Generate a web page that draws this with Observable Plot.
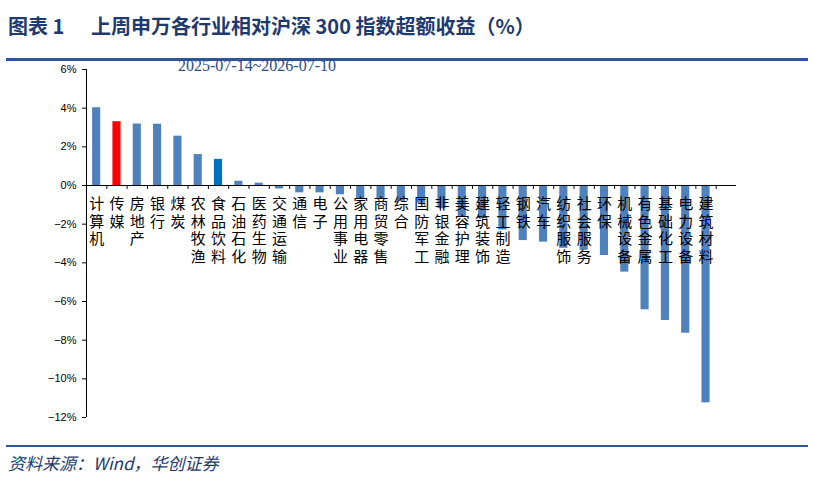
<!DOCTYPE html>
<html>
<head>
<meta charset="utf-8">
<script src="https://cdn.jsdelivr.net/npm/d3@7"></script>
<script src="https://cdn.jsdelivr.net/npm/@observablehq/plot@0.6"></script>
<style>
  html, body { margin: 0; padding: 0; background: #fff; }
  #wrap { position: relative; width: 814px; height: 477px; overflow: hidden; }
  #chart, #axes { position: absolute; left: 0; top: 0; }
  #axes { z-index: 5; pointer-events: none; }
  .title { position: absolute; top: 13px; font-family: "Noto Sans CJK SC", sans-serif; font-weight: 700; font-size: 20px; line-height: 26px; color: #1F3A6E; white-space: pre; }
  .hline { position: absolute; left: 6px; width: 802px; background: #2E5597; }
  .date { position: absolute; left: 178px; top: 57px; font-family: "Liberation Serif", serif; font-size: 16px; color: #2B4D8C; }
  .source { position: absolute; left: 8px; top: 451px; font-family: "Noto Sans CJK SC", sans-serif; font-style: italic; font-size: 17px; line-height: 24px; color: #1F3A6E; }
</style>
</head>
<body>
<div id="wrap">
  <div id="chart"></div>
  <div class="title" style="left:8px;">图表 1</div>
  <div class="title" style="left:91px;">上周申万各行业相对沪深 300 指数超额收益（%）</div>
  <div class="hline" style="top:58px;height:3px;"></div>
  <div class="hline" style="top:445px;height:2px;"></div>
  <div class="source">资料来源：Wind，华创证券</div>
  <div class="date">2025-07-14~2026-07-10</div>
  <div id="axes"></div>
</div>
<script>
const categories = ["计算机","传媒","房地产","银行","煤炭","农林牧渔","食品饮料","石油石化","医药生物","交通运输","通信","电子","公用事业","家用电器","商贸零售","综合","国防军工","非银金融","美容护理","建筑装饰","轻工制造","钢铁","汽车","纺织服饰","社会服务","环保","机械设备","有色金属","基础化工","电力设备","建筑材料"];
const values = [4.02,3.3,3.18,3.17,2.55,1.6,1.35,0.22,0.12,-0.18,-0.38,-0.38,-0.48,-0.7,-0.72,-0.82,-0.92,-1.2,-1.6,-1.72,-2.3,-2.85,-2.93,-3.25,-3.35,-3.62,-4.48,-6.43,-6.98,-7.64,-11.24];
const yTicks = [-12,-10,-8,-6,-4,-2,0,2,4,6];
const redCategory = "传媒";
const darkCategory = "食品饮料";

const data = categories.map((name, i) => ({name, value: values[i]}));

const W = 814, H = 477, mL = 86, mR = 78, mT = 69, mB = 60;
const slots = [...categories, "　"];
const step = (W - mL - mR) / slots.length;
const frameOpts = {
  width: W, height: H,
  marginTop: mT, marginBottom: mB, marginLeft: mL, marginRight: mR,
  style: {background: "transparent", fontFamily: "Liberation Sans, Arial, sans-serif"},
  x: {domain: slots, paddingInner: 0.6, paddingOuter: 0.3, round: false, axis: null},
  y: {domain: [-12, 6], axis: null}
};

const chart = Plot.plot({
  ...frameOpts,
  marks: [
    Plot.barY(data, {filter: d => d.name !== redCategory && d.name !== darkCategory, x: "name", y: "value", fill: "#4F81BD"}),
    Plot.barY(data, {filter: d => d.name === redCategory, x: "name", y: "value", fill: "#FF0000"}),
    Plot.barY(data, {filter: d => d.name === darkCategory, x: "name", y: "value", fill: "#0070C0"}),
    Plot.text(data, {
      x: "name", y: 0,
      text: d => d.name.split("").join("\n"),
      lineAnchor: "top", dy: 11, fontSize: 15, lineHeight: 1.17,
      fill: "#000", fontFamily: "Noto Sans CJK SC, sans-serif"
    }),
    Plot.axisY({
      ticks: yTicks,
      tickFormat: d => (d < 0 ? "\u2212" + Math.abs(d) : d) + "%",
      tickSize: 4, tickPadding: 6, fontSize: 11, label: null
    }),
    Plot.ruleY([0], {stroke: "#000"})
  ]
});
document.getElementById("chart").appendChild(chart);

// Axis lines and category ticks in a second, identical-scale plot layered on top.
const axes = Plot.plot({
  ...frameOpts,
  marks: [
    Plot.ruleY([0], {stroke: "#000"}),
    Plot.ruleX(slots, {x: d => d, y1: 0, y2: -0.2, dx: -step / 2, stroke: "#000"}),
    Plot.ruleX([categories[0]], {x: d => d, y1: -12, y2: 6, dx: -step / 2, stroke: "#000"}),
    Plot.ruleY(yTicks, {y: d => d, x1: categories[0], x2: categories[0], dx: -step / 2, stroke: "#000"})
  ]
});
document.getElementById("axes").appendChild(axes);
</script>
</body>
</html>
